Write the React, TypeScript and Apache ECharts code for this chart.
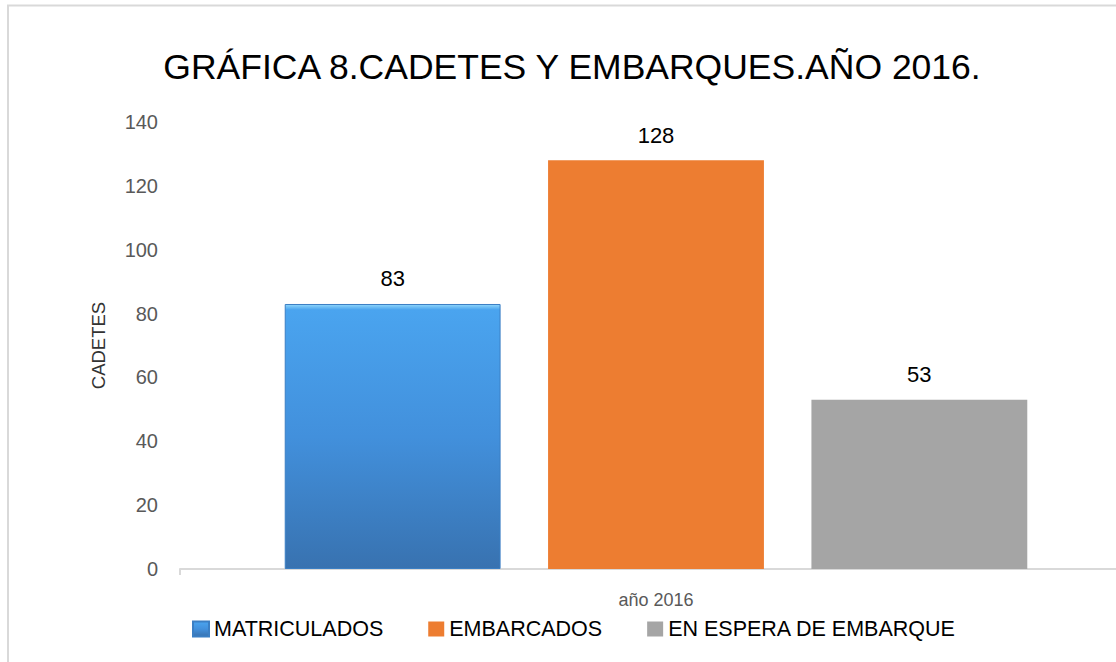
import React, { useEffect, useRef } from "react";
import * as echarts from "echarts";

const categories = ["año 2016"];
const seriesNames = ["MATRICULADOS", "EMBARCADOS", "EN ESPERA DE EMBARQUE"];
const matriculados = [83];
const embarcados = [128];
const enEspera = [53];
const yTicks = { min: 0, max: 140, interval: 20 };

const FONT = "'Liberation Sans', Arial, sans-serif";

export default function App() {
  const ref = useRef<HTMLDivElement>(null);
  useEffect(() => {
    if (!ref.current) return;
    const chart = echarts.init(ref.current, null, { renderer: "svg" });
    const label = {
      show: true,
      position: "top",
      distance: 14,
      color: "#000000",
      fontSize: 22,
      fontFamily: FONT,
    };
    chart.setOption({
      animation: false,
      backgroundColor: "#ffffff",
      textStyle: { fontFamily: FONT },
      graphic: [
        {
          type: "rect",
          shape: { x: 8, y: 5.5, width: 1300, height: 800 },
          style: { fill: "none", stroke: "#d9d9d9", lineWidth: 2 },
          silent: true,
          z: -10,
        },
      ],
      title: {
        text: "GRÁFICA 8.CADETES Y EMBARQUES.AÑO 2016.",
        left: 567,
        top: 62,
        textAlign: "center",
        textVerticalAlign: "middle",
        textStyle: {
          fontFamily: FONT,
          fontSize: 35.5,
          fontWeight: "normal",
          color: "#000000",
        },
      },
      legend: {
        left: 187,
        top: 613,
        itemWidth: 16,
        itemHeight: 15,
        itemGap: 45,
        icon: "rect",
        textStyle: { fontFamily: FONT, fontSize: 21.5, color: "#000000" },
        data: seriesNames,
      },
      grid: { left: 180, right: 8, top: 122, bottom: 93, containLabel: false },
      xAxis: {
        type: "category",
        data: categories,
        axisLine: { show: true, lineStyle: { color: "#d9d9d9", width: 2 } },
        axisTick: { show: true, length: 6, lineStyle: { color: "#d9d9d9", width: 2 } },
        axisLabel: { color: "#595959", fontSize: 18, fontFamily: FONT, margin: 22 },
      },
      yAxis: {
        type: "value",
        min: yTicks.min,
        max: yTicks.max,
        interval: yTicks.interval,
        name: "CADETES",
        nameLocation: "middle",
        nameRotate: 90,
        nameGap: 72,
        nameTextStyle: { color: "#333333", fontSize: 18.5, fontFamily: FONT },
        axisLine: { show: false },
        axisTick: { show: false },
        splitLine: { show: false },
        axisLabel: { color: "#595959", fontSize: 20, fontFamily: FONT, margin: 22 },
      },
      series: [
        {
          name: seriesNames[0],
          type: "bar",
          data: matriculados,
          barGap: "22%",
          barCategoryGap: "22%",
          itemStyle: {
            color: new echarts.graphic.LinearGradient(0, 0, 0, 1, [
              { offset: 0, color: "#8fd6fb" },
              { offset: 0.02, color: "#4aa4ef" },
              { offset: 0.5, color: "#4290dc" },
              { offset: 1, color: "#3872b0" },
            ]),
            borderColor: "#3b7fc4",
            borderWidth: 1,
          },
          label,
        },
        {
          name: seriesNames[1],
          type: "bar",
          data: embarcados,
          itemStyle: { color: "#ED7D31" },
          label,
        },
        {
          name: seriesNames[2],
          type: "bar",
          data: enEspera,
          itemStyle: { color: "#A5A5A5" },
          label,
        },
      ],
    });
    return () => chart.dispose();
  }, []);
  return (
    <div
      style={{
        position: "fixed",
        left: 0,
        top: 0,
        width: 1116,
        height: 662,
        overflow: "hidden",
        background: "#fff",
      }}
    >
      <div ref={ref} style={{ width: 1140, height: 662 }} />
    </div>
  );
}
